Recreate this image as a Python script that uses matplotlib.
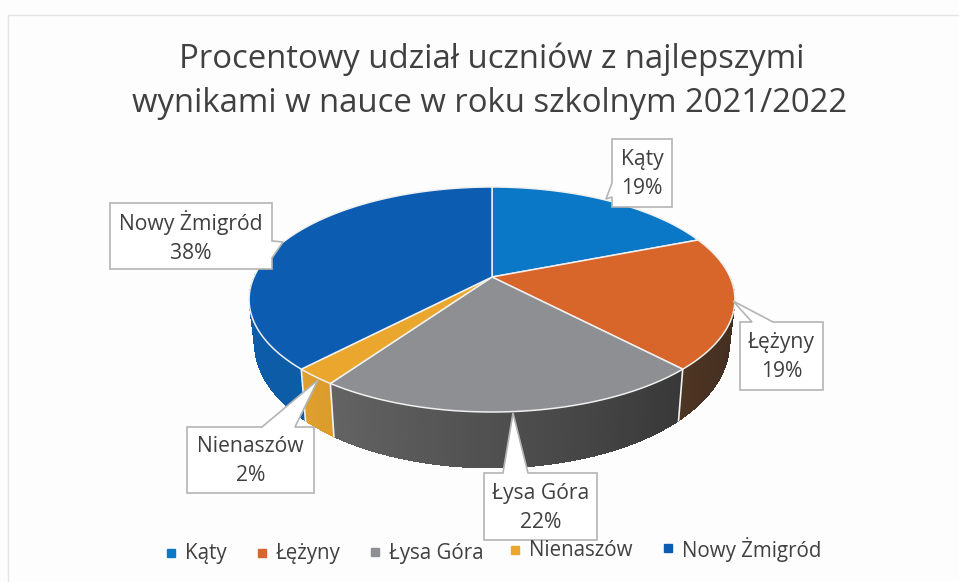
#!/usr/bin/env python3
import numpy as np
import matplotlib
matplotlib.use("Agg")
import matplotlib.pyplot as plt
from matplotlib.patches import Polygon
from matplotlib.colors import to_rgb

# ---------- data ----------
categories = ["Kąty", "Łężyny", "Łysa Góra", "Nienaszów", "Nowy Żmigród"]
values = [19, 19, 21.6, 2.4, 38]
title_lines = ["Procentowy udział uczniów z najlepszymi",
               "wynikami w nauce w roku szkolnym 2021/2022"]

top_colors = ["#0a78c6", "#d8652a", "#8e8f92", "#eba72d", "#0c5cb2"]
side_left = ["#0a5a96", "#4e3524", "#646464", "#e0a02e", "#0c5cae"]
side_right = ["#0a5a96", "#3a2a1e", "#383838", "#dc9c2c", "#0c5ca6"]

# ---------- pie geometry (pixels) ----------
CX, CY = 492, 277
A, B, Q = 238, 108, 0.2


def top_xy(deg):
    a = np.radians(deg)
    u, v = np.sin(a), np.cos(a)
    d = 1 + Q * v
    return CX + A * u / d, CY - B * v / d


def bottom_xy(deg):
    x, y = top_xy(deg)
    v = np.cos(np.radians(deg))
    return CX + (x - CX) * 0.978, y + 40 - 16 * np.minimum(v, 0)


plt.rcParams["font.family"] = ["Open Sans", "DejaVu Sans"]
fig = plt.figure(figsize=(9.59, 5.82), dpi=100, facecolor="#fdfdfd")
ax = fig.add_axes([0, 0, 1, 1])
ax.set_xlim(0, 959)
ax.set_ylim(582, 0)
ax.axis("off")

# chart border left by the scan
ax.plot([959, 8, 8], [15, 15, 582], color="#e4e4e4", lw=1)

# ---------- slices ----------
edges = np.cumsum([0] + values) * 3.6
for i in range(len(values)):
    start, end = edges[i], edges[i + 1]
    lo, hi = max(start, 90), min(end, 272)
    if lo < hi:
        steps = np.arange(lo, hi, 1.5).tolist() + [hi]
        c0, c1 = np.array(to_rgb(side_left[i])), np.array(to_rgb(side_right[i]))
        for a0, a1 in zip(steps[:-1], steps[1:]):
            seg = np.linspace(a0, a1, 3)
            xt, yt = top_xy(seg)
            xb, yb = bottom_xy(seg)
            f = (hi - a0) / (hi - lo)
            ax.add_patch(Polygon(np.r_[np.c_[xt, yt], np.c_[xb, yb][::-1]],
                                 fc=c0 * (1 - f) + c1 * f, ec="none", aa=False, zorder=2))
        # white seam at the near end of a side wall
        if start >= 90:
            ax.plot(*zip(top_xy(start), bottom_xy(start)), color="#f2f2f2", lw=1.2, zorder=3)
for i in range(len(values)):
    arc = np.linspace(edges[i], edges[i + 1], 120)
    xs, ys = top_xy(arc)
    pts = np.r_[[[CX, CY]], np.c_[xs, ys]]
    ax.add_patch(Polygon(pts, fc=top_colors[i], ec="#f0f0f0", lw=1.1, joinstyle="round", zorder=4))

# ---------- callouts ----------
boxes = [(612, 139, 672, 207), (740, 322, 823, 390), (484, 473, 597, 540),
         (187, 427, 314, 493), (110, 203, 272, 269)]
outlines = [
    [(612, 139), (672, 139), (672, 207), (612, 207), (612, 197), (606, 199), (612, 183)],
    [(740, 322), (752, 322), (733, 301), (773, 322), (823, 322), (823, 390), (740, 390)],
    [(484, 473), (503, 473), (513, 413), (528, 473), (597, 473), (597, 540), (484, 540)],
    [(187, 427), (262, 427), (318, 380), (295, 427), (314, 427), (314, 493), (187, 493)],
    [(110, 203), (272, 203), (272, 241), (283, 242), (272, 258), (272, 269), (110, 269)],
]
for i, (box, outline) in enumerate(zip(boxes, outlines)):
    x0, y0, x1, y1 = box
    ax.add_patch(Polygon(outline, fc="white", ec="#b4b4b4", lw=1.2, zorder=6))
    ax.text((x0 + x1) / 2, (y0 + y1) / 2 + 1,
            f"{categories[i]}\n{values[i]:.0f}%", ha="center", va="center",
            fontsize=15.2, color="#404040", linespacing=1.5, zorder=7)

# ---------- title ----------
ax.text(492, 59, title_lines[0], ha="center", va="center", fontsize=23.7, color="#404040")
ax.text(490, 103, title_lines[1], ha="center", va="center", fontsize=23.7, color="#404040")

# ---------- legend ----------
legend_marker_x = [171, 262, 375, 515, 668]
legend_y = [553, 553, 552, 550, 548]
for i, name in enumerate(categories):
    ax.plot(legend_marker_x[i], legend_y[i], "s", ms=5.5, color=top_colors[i], zorder=5)
    ax.text(legend_marker_x[i] + 14, legend_y[i] + 1, name, ha="left", va="center",
            fontsize=14.8, color="#404040", zorder=8)

fig.savefig("out.png", dpi=100, facecolor=fig.get_facecolor())
